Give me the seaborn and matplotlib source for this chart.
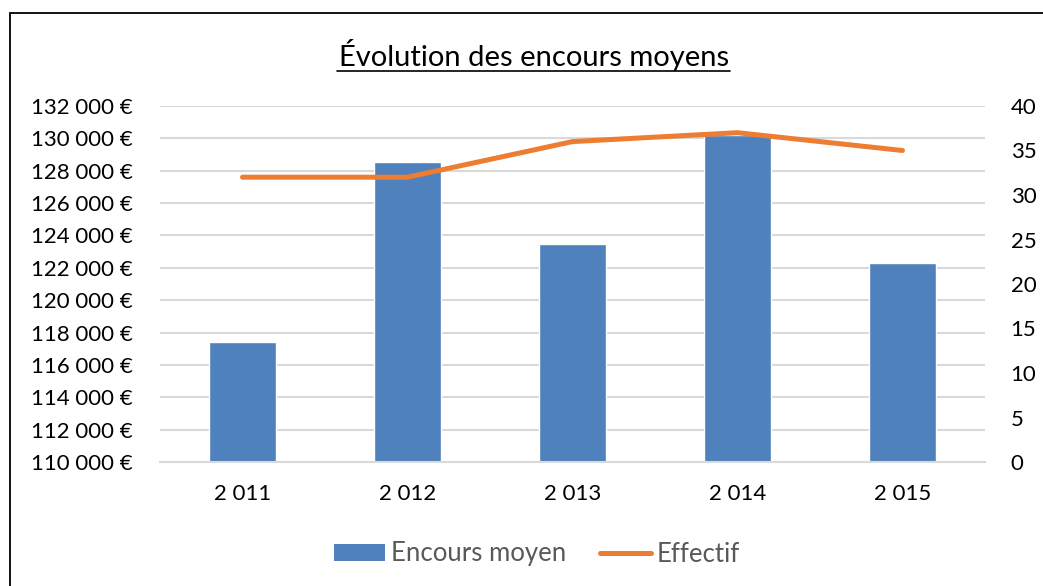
import matplotlib
matplotlib.use("Agg")
import matplotlib.pyplot as plt
import seaborn as sns
import pandas as pd
from matplotlib.patches import Rectangle, Patch
from matplotlib.lines import Line2D
from matplotlib.ticker import FuncFormatter

years = ["2 011", "2 012", "2 013", "2 014", "2 015"]
encours = [117400, 128550, 123500, 130200, 122300]
effectif = [32, 32, 36, 37, 35]

sns.set_theme(style="white")
plt.rcParams['font.family'] = ['Lato', 'DejaVu Sans']

bar_color = "#4F81BD"
line_color = "#ED7D31"

df = pd.DataFrame({"annee": years, "encours": encours, "effectif": effectif})

fig = plt.figure(figsize=(10.43, 5.86), dpi=100)
ax = fig.add_axes([160/1043, 1-462/586, 825/1043, 356/586])

sns.barplot(data=df, x="annee", y="encours", color=bar_color, width=0.41,
            saturation=1, ax=ax, zorder=2)
ax.set_ylim(110000, 132000)
ax.set_yticks(range(110000, 132001, 2000))
ax.yaxis.set_major_formatter(FuncFormatter(lambda v, p: f"{int(v):,} €".replace(",", " ")))
ax.grid(axis="y", color="#D9D9D9", linewidth=1.5, zorder=0)
ax.set_axisbelow(True)
ax.set_xlabel("")
ax.set_ylabel("")
for s in ["top", "right", "left"]:
    ax.spines[s].set_visible(False)
ax.spines["bottom"].set_color("#D9D9D9")
ax.spines["bottom"].set_linewidth(1.5)
ax.tick_params(axis="both", length=0, labelsize=16, colors="black")
ax.tick_params(axis="y", pad=19.5)
ax.tick_params(axis="x", pad=15.5)

ax2 = ax.twinx()
sns.lineplot(data=df, x="annee", y="effectif", color=line_color, linewidth=3.6,
             ax=ax2, solid_capstyle="round", zorder=3)
ax2.set_ylim(0, 40)
ax2.set_yticks(range(0, 41, 5))
ax2.set_ylabel("")
ax2.set_xlabel("")
for s in ["top", "right", "left", "bottom"]:
    ax2.spines[s].set_visible(False)
ax2.tick_params(axis="y", length=0, labelsize=16, colors="black", pad=18.5)
ax.set_xlim(-0.5, 4.5)

fig.text(534/1043, 1-55/586, "Évolution des encours moyens", ha="center", va="center",
         fontsize=21, color="black")
fig.add_artist(Line2D([337/1043, 730/1043], [1-71/586, 1-71/586], color="black", lw=1.2))

handles = [Patch(facecolor=bar_color, edgecolor="none"),
           Line2D([0], [0], color=line_color, lw=3.6, solid_capstyle="round")]
fig.legend(handles, ["Encours moyen", "Effectif"], loc="center",
           bbox_to_anchor=(537/1043, 1-554/586), ncol=2, frameon=False,
           fontsize=18.5, handlelength=2.0, handleheight=0.66, columnspacing=1.3,
           handletextpad=0.23, labelcolor="#595959")

fig.add_artist(Rectangle((10/1043, -0.05), 1.2, 1-13/586+0.05, transform=fig.transFigure,
                         fill=False, edgecolor="black", lw=1.3))

fig.savefig("out.png", dpi=100)
